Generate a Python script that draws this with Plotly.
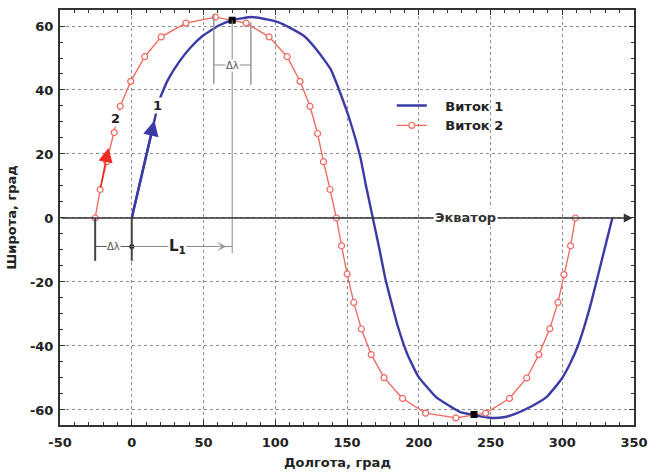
import plotly.graph_objects as go

# ---- data ----
lon1 = [0, 15.8, 19.3, 25.0, 33.0, 41.0, 49.1, 60.0, 69.8, 83.5, 95.0, 101.9, 110.0, 120.3,
        129.0, 138.6, 145.1, 152.4, 159.3, 163.5, 168.0, 172.5, 176.5, 181.0, 185.5, 192.0,
        199.5, 212.1, 228.2, 238.5, 251.2, 260.0, 267.2, 278.0, 289.0, 299.4, 305.5, 310.8,
        316.0, 320.0, 326.9, 331.0, 334.9]
lat1 = [0, 30.5, 37.0, 43.0, 48.8, 53.3, 56.8, 60.0, 61.8, 62.8, 62.0, 61.2, 59.5, 56.8,
        52.5, 46.5, 39.3, 30.0, 19.0, 9.5, 0.0, -9.5, -18.5, -26.5, -34.0, -42.5,
        -49.4, -56.0, -60.5, -61.6, -62.5, -62.2, -61.2, -59.0, -56.0, -50.4, -45.5, -40.1,
        -33.0, -26.7, -14.4, -7.0, 0.0]

lon2 = [-25.5, -22.0, -17.4, -12.2, -8.0, -0.7, 9.0, 20.5, 37.7, 58.3, 79.7, 95.7, 108.3,
        117.3, 124.2, 129.5, 133.6, 138.2, 142.6, 146.2, 150.1, 154.7, 160.0, 166.9, 175.8,
        188.7, 204.8, 225.9, 246.6, 263.2, 275.3, 283.7, 291.3, 297.0, 301.2, 305.8, 309.2]
lat2 = [0, 8.9, 17.6, 26.7, 34.9, 42.7, 50.4, 56.6, 60.9, 62.8, 60.9, 56.6, 50.4, 42.7,
        34.9, 26.4, 17.6, 8.9, 0, -8.7, -17.5, -26.4, -34.7, -42.7, -49.9, -56.4, -61.0,
        -62.5, -61.0, -56.4, -50.0, -42.7, -34.6, -26.4, -17.7, -8.7, 0]

key_lon = [70, 238.5]
key_lat = [61.8, -61.4]

series_names = ["Виток 1", "Виток 2"]
x_ticks = [-50, 0, 50, 100, 150, 200, 250, 300, 350]
x_tick_text = ["-50", "0", "50", "100", "150", "200", "250", "300", "350"]
y_ticks = [-60, -40, -20, 0, 20, 40, 60]
y_tick_text = ["-60", "-40", "-20", "0", "20", "40", "60"]

BLUE = "#3b3ba6"
RED = "#f2665c"
TXT = "#222222"
FONT = "DejaVu Sans"

fig = go.Figure()
fig.add_trace(go.Scatter(x=lon1, y=lat1, mode="lines", name="\u00a0\u00a0\u00a0" + series_names[0],
                         line=dict(color=BLUE, width=2.4, shape="spline", smoothing=0.4)))
fig.add_trace(go.Scatter(x=lon2, y=lat2, mode="lines+markers", name="\u00a0\u00a0\u00a0" + series_names[1],
                         line=dict(color=RED, width=1.3),
                         marker=dict(symbol="circle", size=6, color="white", line=dict(width=1.2, color=RED))))
fig.add_trace(go.Scatter(x=key_lon, y=key_lat, mode="markers", showlegend=False,
                         marker=dict(symbol="square", size=7, color="black")))
fig.add_trace(go.Scatter(x=[0], y=[-8.9], mode="markers", showlegend=False,
                         marker=dict(symbol="circle", size=5, color="black")))

DIM = "#555555"
LITE = "#8a8a8a"
shapes = [
    dict(type="line", x0=-25.5, x1=-25.5, y0=0, y1=-13.4, line=dict(color="#444", width=2)),
    dict(type="line", x0=0, x1=0, y0=0, y1=-13.4, line=dict(color="#444", width=2)),
    dict(type="line", x0=-25.5, x1=0, y0=-8.9, y1=-8.9, line=dict(color=DIM, width=1)),
    dict(type="line", x0=0, x1=70, y0=-8.9, y1=-8.9, line=dict(color=LITE, width=1)),
    dict(type="line", x0=70, x1=70, y0=61.8, y1=-11, line=dict(color=LITE, width=1)),
    dict(type="line", x0=57.2, x1=57.2, y0=63.4, y1=41.9, line=dict(color=LITE, width=1.3)),
    dict(type="line", x0=83, x1=83, y0=61.2, y1=41.6, line=dict(color=LITE, width=1.3)),
    dict(type="line", x0=57.2, x1=83, y0=47.8, y1=47.8, line=dict(color=LITE, width=1)),
]
for s in shapes:
    s.update(xref="x", yref="y", layer="above")

ann = [
    # equator arrow
    dict(x=349, y=0, ax=-50, ay=0, axref="x", ayref="y", xref="x", yref="y", text="",
         showarrow=True, arrowhead=2, arrowsize=1.1, arrowwidth=1.6, arrowcolor="#333", standoff=0),
    dict(x=232.8, y=0, xref="x", yref="y", text="Экватор", showarrow=False, bgcolor="white",
         font=dict(family=FONT, size=13, color="#333", weight="bold"), borderpad=1),
    # blue arrow head
    dict(x=15.8, y=30.5, ax=0, ay=0, axref="x", ayref="y", xref="x", yref="y", text="",
         showarrow=True, arrowhead=2, arrowsize=1.3, arrowwidth=2.4, arrowcolor=BLUE, standoff=0),
    # red arrow head
    dict(x=-16.3, y=21.9, ax=-22, ay=8.9, axref="x", ayref="y", xref="x", yref="y", text="",
         showarrow=True, arrowhead=2, arrowsize=1.9, arrowwidth=1.5, arrowcolor="#ee2a22", standoff=0),
    dict(x=17.6, y=35.0, xref="x", yref="y", text="1", showarrow=False, bgcolor="white", borderpad=0,
         font=dict(family=FONT, size=13, color=TXT, weight="bold")),
    dict(x=-11.0, y=31.0, xref="x", yref="y", text="2", showarrow=False, bgcolor="white", borderpad=0,
         font=dict(family=FONT, size=13, color=TXT, weight="bold")),
    dict(x=-12.7, y=-8.9, xref="x", yref="y", text="Δλ", showarrow=False, bgcolor="white", borderpad=0,
         font=dict(family=FONT, size=10, color="#555")),
    dict(x=70, y=47.8, xref="x", yref="y", text="Δλ", showarrow=False, bgcolor="white", borderpad=0,
         font=dict(family=FONT, size=10, color="#555")),
    dict(x=32, y=-8.9, xref="x", yref="y", text="L<sub>1</sub>", showarrow=False, bgcolor="white",
         borderpad=0, font=dict(family=FONT, size=15, color=TXT, weight="bold")),
    dict(x=66, y=-8.9, ax=57, ay=-8.9, axref="x", ayref="y", xref="x", yref="y", text="",
         showarrow=True, arrowhead=3, arrowsize=1.6, arrowwidth=1, arrowcolor="#999", standoff=0),
    # x-axis title
    dict(x=0.483, y=-0.091, xref="paper", yref="paper", text="Долгота, град", showarrow=False,
         xanchor="center", yanchor="middle",
         font=dict(family=FONT, size=13, color=TXT, weight="bold")),
]

axis_common = dict(
    showline=True, linecolor="#333", linewidth=2, mirror="allticks",
    ticks="inside", ticklen=5, tickcolor="#333", tickwidth=1,
    showgrid=True, gridcolor="#8c8c8c", gridwidth=1, griddash="dot",
    zeroline=False,
    tickfont=dict(family=FONT, size=13, color=TXT, weight="bold"),
)

fig.update_layout(
    width=656, height=474,
    margin=dict(l=60, r=16, t=8, b=49),
    paper_bgcolor="white", plot_bgcolor="white",
    font=dict(family=FONT, color=TXT),
    shapes=shapes, annotations=ann,
    legend=dict(x=0.578, y=0.806, xanchor="left", yanchor="top", bgcolor="rgba(0,0,0,0)",
                font=dict(family=FONT, size=13, color=TXT, weight="bold"),
                itemwidth=30, tracegroupgap=0),
    xaxis=dict(range=[-50, 350], tickvals=x_ticks, ticktext=x_tick_text, ticklabelstandoff=4,
               minor=dict(dtick=10, ticks="inside", ticklen=3, tickcolor="#333", showgrid=False),
               **axis_common),
    yaxis=dict(range=[-64.7, 65], tickvals=y_ticks, ticktext=y_tick_text, ticklabelstandoff=2,
               minor=dict(dtick=5, ticks="inside", ticklen=3, tickcolor="#333", showgrid=False),
               title=dict(text="Широта, град", standoff=10,
                          font=dict(family=FONT, size=13, color=TXT, weight="bold")),
               **axis_common),
)

fig.write_html("out.html")
